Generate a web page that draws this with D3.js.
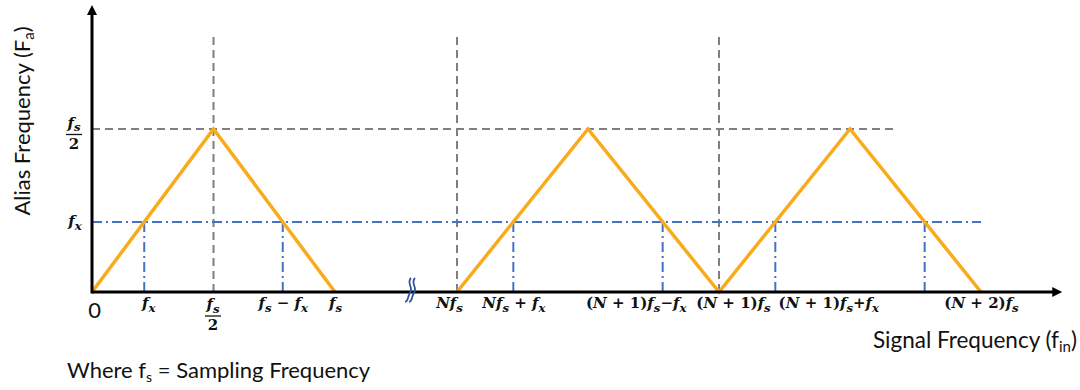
<!DOCTYPE html>
<html>
<head>
<meta charset="utf-8">
<script src="https://cdn.jsdelivr.net/npm/d3@7"></script>
<style>
  html, body { margin: 0; padding: 0; background: #fff; }
  svg { display: block; }
  text { white-space: pre; }
</style>
</head>
<body>
<svg id="chart" width="1080" height="390"></svg>
<script>
// Frequency folding: input frequency in units of fs (later zone starts at N = 3)
const firstZoneX = [0, 0.5, 1];
const firstZoneY = [0, 0.5, 0];
const laterZoneX = [3, 3.5, 4, 4.5, 5];
const laterZoneY = [0, 0.5, 0, 0.5, 0];

const fxLevel = 0.215;
const halfFsLevel = 0.5;
const fxCrossings = [0.215, 0.785, 3.215, 3.785, 4.215, 4.785];
const zoneGuides = [0.5, 3, 4];
const halfFsGuideEnd = 4.665;
const fxGuideEnd = 5;
const zoneGuideTop = 0.785;

const xTickValues = [0, 0.215, 0.5, 0.785, 1, 3, 3.215, 3.785, 4, 4.215, 5];
const xTickLabels = ["0", "f_x", "f_s/2", "f_s − f_x", "f_s", "Nf_s", "Nf_s + f_x",
                     "(N + 1)f_s−f_x", "(N + 1)f_s", "(N + 1)f_s+f_x", "(N + 2)f_s"];
const yTickValues = [0.215, 0.5];
const yTickLabels = ["f_x", "f_s/2"];

const xAxisEnd = 5.31;
const yAxisEnd = 0.88;

// label nudges along the axis so the long labels do not collide
const labelShift = { "f_x": 4, "Nf_s": -8, "(N + 1)f_s−f_x": -27, "(N + 1)f_s": 14, "(N + 1)f_s+f_x": 53 };

const svg = d3.select("#chart");

const x = d3.scaleLinear().domain([0, 1, 3, 5]).range([92, 335, 457, 981]);
const y = d3.scaleLinear().domain([0, 0.5]).range([292, 129]);

const GRAY = "#7f7f7f", BLUE = "#4472c4", ORANGE = "#f9ac1b";
const MATH_FONT = "'DejaVu Serif', serif";
const SANS = "Lato, 'Open Sans', sans-serif";

// ---- guides ----
const guides = svg.append("g");
guides.selectAll("line.zone").data(zoneGuides).join("line")
  .attr("x1", d => x(d)).attr("x2", d => x(d))
  .attr("y1", y(0)).attr("y2", y(zoneGuideTop))
  .attr("stroke", GRAY).attr("stroke-width", 2).attr("stroke-dasharray", "8,5");
guides.append("line")
  .attr("x1", x(0)).attr("x2", x(halfFsGuideEnd))
  .attr("y1", y(halfFsLevel)).attr("y2", y(halfFsLevel))
  .attr("stroke", GRAY).attr("stroke-width", 2).attr("stroke-dasharray", "8,5");

guides.append("line")
  .attr("x1", x(0)).attr("x2", x(fxGuideEnd))
  .attr("y1", y(fxLevel)).attr("y2", y(fxLevel))
  .attr("stroke", BLUE).attr("stroke-width", 2).attr("stroke-dasharray", "10,4,2,4");
guides.selectAll("line.fx").data(fxCrossings).join("line")
  .attr("x1", d => x(d)).attr("x2", d => x(d))
  .attr("y1", y(fxLevel)).attr("y2", y(0))
  .attr("stroke", BLUE).attr("stroke-width", 2).attr("stroke-dasharray", "10,4,2,4");

// ---- folded alias frequency ----
const line = d3.line().x(d => x(d[0])).y(d => y(d[1]));
[[firstZoneX, firstZoneY], [laterZoneX, laterZoneY]].forEach(([xs, ys]) => {
  svg.append("path")
    .attr("d", line(xs.map((v, i) => [v, ys[i]])))
    .attr("fill", "none").attr("stroke", ORANGE)
    .attr("stroke-width", 3.5).attr("stroke-linejoin", "miter");
});

// ---- axes ----
const axes = svg.append("g");
axes.append("line")
  .attr("x1", x(0)).attr("x2", x(xAxisEnd) - 8)
  .attr("y1", y(0)).attr("y2", y(0))
  .attr("stroke", "#000").attr("stroke-width", 3);
axes.append("path")
  .attr("d", `M${x(xAxisEnd)},${y(0)} l-10,-5 l0,10 z`).attr("fill", "#000");
axes.append("line")
  .attr("x1", x(0)).attr("x2", x(0))
  .attr("y1", y(0) + 1.5).attr("y2", y(yAxisEnd) + 8)
  .attr("stroke", "#000").attr("stroke-width", 3);
axes.append("path")
  .attr("d", `M${x(0)},${y(yAxisEnd)} l-5,10 l10,0 z`).attr("fill", "#000");

// axis break mark
const brk = svg.append("g").attr("fill", "none").attr("stroke", "#2f5597").attr("stroke-width", 1.8);
[0, 4].forEach(off => {
  const bx = x(1) + 74 + off;
  brk.append("path")
    .attr("d", `M${bx + 2},278 C${bx - 3},283 ${bx + 5},288 ${bx + 1},293 C${bx - 2},297 ${bx},301 ${bx - 4},302`);
});

// ---- math labels ----
function parseMath(str) {
  const segs = [];
  for (let i = 0; i < str.length; i++) {
    const c = str[i];
    if (c === "_") { segs.push({ t: str[i + 1], sub: true, it: /[A-Za-z]/.test(str[i + 1]) }); i++; }
    else segs.push({ t: c, sub: false, it: /[A-Za-z]/.test(c) });
  }
  const merged = [];
  segs.forEach(s => {
    const last = merged[merged.length - 1];
    if (last && last.sub === s.sub && last.it === s.it) last.t += s.t;
    else merged.push({ ...s });
  });
  return merged;
}

function writeMath(textSel, str) {
  let shifted = false;
  parseMath(str).forEach(s => {
    const ts = textSel.append("tspan").text(s.t)
      .attr("font-style", s.it ? "italic" : "normal");
    if (s.sub) {
      ts.attr("font-size", "0.78em");
      if (!shifted) { ts.attr("dy", 3.5); shifted = true; }
    } else if (shifted) { ts.attr("dy", -3.5); shifted = false; }
  });
}

function mathLabel(g, str, cx, baseline, anchor) {
  const t = g.append("text")
    .attr("x", cx).attr("y", baseline)
    .attr("text-anchor", anchor || "middle")
    .attr("font-family", MATH_FONT).attr("font-weight", "bold")
    .attr("font-size", 15).attr("fill", "#111")
    .attr("xml:space", "preserve");
  writeMath(t, str);
  return t;
}

function fractionLabel(g, str, cx, barY) {
  const [num, den] = str.split("/");
  mathLabel(g, num, cx, barY - 7);
  g.append("line").attr("x1", cx - 8).attr("x2", cx + 8)
    .attr("y1", barY).attr("y2", barY).attr("stroke", "#111").attr("stroke-width", 1.3);
  mathLabel(g, den, cx, barY + 14);
}

// x tick labels
const xAxis = d3.axisBottom(x).tickValues(xTickValues).tickSize(0).tickFormat("");
const xg = svg.append("g").attr("transform", `translate(0,${y(0)})`).call(xAxis);
xg.select(".domain").remove();
xg.selectAll(".tick").each(function (d, i) {
  const g = d3.select(this);
  const lab = xTickLabels[i];
  const dx = labelShift[lab] || 0;
  if (lab === "0") {
    g.append("text").attr("x", 2).attr("y", 26).attr("text-anchor", "middle")
      .attr("font-family", SANS).attr("font-size", 22).attr("fill", "#111").text("0");
  } else if (lab.includes("/")) {
    fractionLabel(g, lab, dx - 1, 24);
  } else {
    mathLabel(g, lab, dx, 16);
  }
});

// y tick labels
const yAxis = d3.axisLeft(y).tickValues(yTickValues).tickSize(0).tickFormat("");
const yg = svg.append("g").attr("transform", `translate(${x(0)},0)`).call(yAxis);
yg.select(".domain").remove();
yg.selectAll(".tick").each(function (d, i) {
  const g = d3.select(this);
  const lab = yTickLabels[i];
  if (lab.includes("/")) fractionLabel(g, lab, -18, 5);
  else mathLabel(g, lab, -17, 4);
});

// ---- axis titles ----
const yTitle = svg.append("text")
  .attr("transform", "translate(30,121) rotate(-90)")
  .attr("text-anchor", "middle").attr("font-family", SANS)
  .attr("font-size", 22).attr("fill", "#111");
yTitle.append("tspan").text("Alias Frequency (F");
yTitle.append("tspan").text("a").attr("font-size", 15).attr("dy", 4);
yTitle.append("tspan").text(")").attr("dy", -4);

const xTitle = svg.append("text")
  .attr("x", 1077).attr("y", 348).attr("text-anchor", "end")
  .attr("font-family", SANS).attr("font-size", 22.5).attr("fill", "#111");
xTitle.append("tspan").text("Signal Frequency (f");
xTitle.append("tspan").text("in").attr("font-size", 15).attr("dy", 4);
xTitle.append("tspan").text(")").attr("dy", -4);

const note = svg.append("text")
  .attr("x", 67).attr("y", 378)
  .attr("font-family", SANS).attr("font-size", 22).attr("fill", "#111");
note.append("tspan").text("Where f");
note.append("tspan").text("s").attr("font-size", 14).attr("dy", 4);
note.append("tspan").text(" = Sampling Frequency").attr("dy", -4);
</script>
</body>
</html>
